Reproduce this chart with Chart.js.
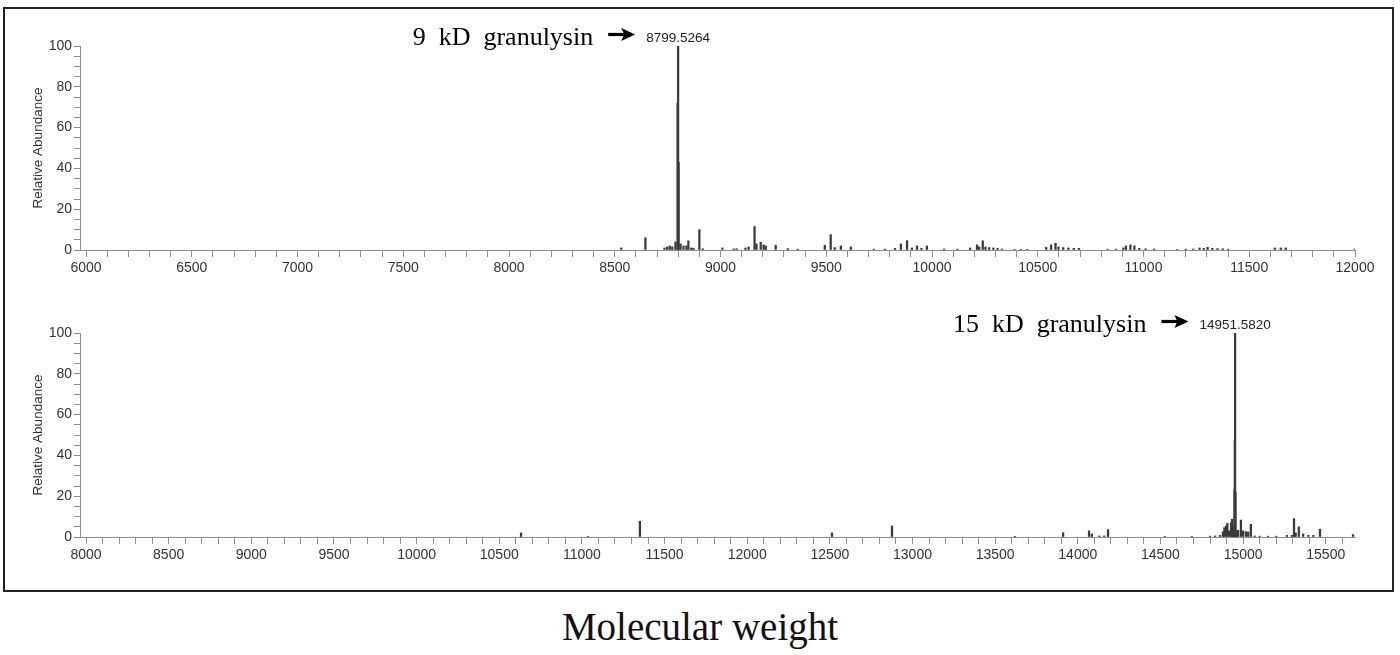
<!DOCTYPE html>
<html>
<head>
<meta charset="utf-8">
<title>Granulysin mass spectra</title>
<script src="https://cdn.jsdelivr.net/npm/chart.js"></script>
<style>
  body { margin: 0; background: #fff; }
  #wrap { position: relative; width: 1400px; height: 655px; }
  #frame { position: absolute; left: 3px; top: 7px; width: 1391px; height: 585px; border: 2px solid #222; box-sizing: border-box; }
  canvas { position: absolute; left: 0; }
  #xtitle { position: absolute; left: 0; top: 604px; width: 1400px; text-align: center;
            font-family: "Liberation Serif", "Times New Roman", serif; font-size: 39px; color: #111; }
</style>
</head>
<body>
<div id="wrap">
  <div id="frame"></div>
  <canvas id="topChart" width="1400" height="290" style="top:0px"></canvas>
  <canvas id="bottomChart" width="1400" height="290" style="top:287px"></canvas>
  <div id="xtitle">Molecular weight</div>
</div>

<script>
// ---- top spectrum (9 kD granulysin), m/z and relative abundance
const topMz = [8531, 8645, 8735, 8748, 8760, 8772, 8787, 8797, 8799.5264, 8802, 8811, 8825, 8839, 8848, 8862, 8872, 8900, 8916,
  9009, 9062, 9076, 9118, 9133, 9161, 9170, 9190, 9204, 9214, 9261, 9318, 9365,
  9493, 9521, 9540, 9569, 9616, 9725, 9777, 9825, 9853, 9882, 9905, 9929, 9950, 9976,
  10057, 10120, 10180, 10213, 10223, 10240, 10253, 10270, 10290, 10310, 10330, 10390, 10420, 10450,
  10540, 10563, 10584, 10598, 10620, 10645, 10670, 10695, 10830, 10870, 10905, 10917, 10938, 10957, 10980, 11010, 11050,
  11160, 11200, 11235, 11265, 11285, 11303, 11325, 11350, 11375, 11400, 11621, 11649, 11673, 11998];
const topAbund = [1, 6, 1, 1.5, 2, 1.5, 4, 72, 100, 43, 3, 2, 2, 4.5, 1, 0.8, 10, 0.6,
  1, 0.5, 0.6, 1, 1.5, 11.5, 3, 3.8, 2.5, 2, 2.3, 0.7, 0.4,
  2.3, 7.5, 1.2, 2, 1.5, 0.4, 0.4, 0.8, 3, 4.6, 1, 2, 0.8, 2,
  0.5, 0.4, 1, 2.5, 1.5, 4.5, 1.5, 1.2, 1, 0.8, 0.5, 0.3, 0.3, 0.3,
  1.3, 2.5, 3.3, 1.5, 1.2, 1, 0.8, 0.8, 0.4, 0.4, 1, 2, 2.5, 2, 0.8, 0.6, 0.5,
  0.3, 0.4, 0.5, 1, 0.8, 1.3, 0.8, 0.7, 0.6, 0.4, 1, 1, 1, 0.5];

// ---- bottom spectrum (15 kD granulysin)
const bottomMz = [10632, 11037, 11351, 12513, 12876, 13620, 13911, 14068, 14085, 14130, 14160, 14183, 14527, 14690,
  14800, 14830, 14860, 14878, 14887, 14897, 14905, 14915, 14927, 14933, 14939, 14948, 14950, 14951.582, 14954,
  14963, 14970, 14987, 15000, 15017, 15031, 15047, 15070, 15100, 15150, 15200,
  15265, 15295, 15308, 15318, 15337, 15363, 15395, 15425, 15465, 15665];
const bottomAbund = [2, 0.3, 7.7, 2, 5.4, 0.3, 2.1, 3, 1.5, 0.5, 0.5, 3.6, 0.3, 0.3,
  0.4, 0.5, 0.8, 2.6, 4.6, 5.4, 6.7, 3, 6.9, 8.7, 5, 23, 47, 100, 22,
  3, 3.3, 8.3, 3, 2.6, 2.5, 6.2, 0.5, 0.4, 0.4, 0.4,
  0.8, 0.8, 9, 2, 5, 1.5, 0.8, 0.8, 3.8, 1.2];

// tick labels
const topTickLabels = [6000, 6500, 7000, 7500, 8000, 8500, 9000, 9500, 10000, 10500, 11000, 11500, 12000];
const bottomTickLabels = [8000, 8500, 9000, 9500, 10000, 10500, 11000, 11500, 12000, 12500, 13000, 13500, 14000, 14500, 15000, 15500];
const yTickLabels = [0, 20, 40, 60, 80, 100];

const axisGray = '#8f8f8f';
const textGray = '#333';

// peak label + "granulysin ->" note, placed from the peak position on the x scale
const peakNote = {
  id: 'peakNote',
  afterDraw(chart, args, opts) {
    const ctx = chart.ctx;
    const px = chart.scales.x.getPixelForValue(opts.peak);
    const top = chart.chartArea.top;
    ctx.save();
    ctx.fillStyle = '#222';
    ctx.font = '13.5px "Liberation Sans", Arial, sans-serif';
    ctx.textAlign = 'center';
    ctx.textBaseline = 'alphabetic';
    ctx.fillText(opts.label, px, top - 4);
    const labelLeft = px - ctx.measureText(opts.label).width / 2;

    // arrow
    const ax1 = labelLeft - 11, ax0 = ax1 - 27, ay = top - 11.5;
    ctx.fillStyle = '#000';
    ctx.fillRect(ax0, ay - 1.6, 18, 3.2);
    ctx.beginPath();
    ctx.moveTo(ax1, ay);
    ctx.lineTo(ax1 - 14, ay - 6.5);
    ctx.lineTo(ax1 - 11, ay);
    ctx.lineTo(ax1 - 14, ay + 6.5);
    ctx.closePath();
    ctx.fill();

    ctx.font = '26px "Liberation Serif", "Times New Roman", serif';
    ctx.textAlign = 'right';
    ctx.fillText(opts.name, ax0 - 15, top - 1);
    ctx.restore();
  }
};

function makeSpectrum(id, mz, ab, xMin, xMax, xLabels, note) {
  const pts = mz.map((m, i) => ({ x: m, y: ab[i] }));
  return new Chart(document.getElementById(id), {
    type: 'bar',
    data: {
      datasets: [{
        data: pts,
        backgroundColor: '#3a3a3a',
        borderWidth: 0,
        barThickness: 1.6,
        grouped: false
      }]
    },
    options: {
      responsive: false,
      animation: false,
      layout: { padding: { top: 46, right: 45, left: 0, bottom: 0 } },
      plugins: { legend: { display: false }, tooltip: { enabled: false }, peakNote: note },
      scales: {
        x: {
          type: 'linear',
          offset: false,
          min: xMin,
          max: xMax,
          afterFit: s => { s.height = 40; },
          border: { display: true, color: axisGray, width: 1 },
          grid: { display: true, drawOnChartArea: false, drawTicks: true, tickLength: 7, color: axisGray, offset: false },
          ticks: {
            stepSize: 100,
            includeBounds: false,
            maxTicksLimit: 1000,
            autoSkip: false,
            maxRotation: 0,
            padding: 3,
            color: textGray,
            font: { family: '"Liberation Sans", Arial, sans-serif', size: 14 },
            callback: v => xLabels.includes(v) ? String(v) : ''
          }
        },
        y: {
          min: 0,
          max: 100,
          afterFit: s => { s.width = 80; },
          border: { display: true, color: axisGray, width: 1 },
          grid: { display: true, drawOnChartArea: false, drawTicks: true, tickLength: 6, color: axisGray },
          title: {
            display: true,
            text: 'Relative Abundance',
            color: textGray,
            padding: { top: 30, bottom: 0 },
            font: { family: '"Liberation Sans", Arial, sans-serif', size: 13.5 }
          },
          ticks: {
            stepSize: 5,
            autoSkip: false,
            padding: 2,
            color: textGray,
            font: { family: '"Liberation Sans", Arial, sans-serif', size: 14 },
            callback: v => yTickLabels.includes(v) ? String(v) : ''
          }
        }
      }
    },
    plugins: [peakNote]
  });
}

makeSpectrum('topChart', topMz, topAbund, 5971.6, 12000, topTickLabels,
  { peak: 8799.5264, label: '8799.5264', name: '9  kD  granulysin' });
makeSpectrum('bottomChart', bottomMz, bottomAbund, 7963.7, 15677, bottomTickLabels,
  { peak: 14951.582, label: '14951.5820', name: '15  kD  granulysin' });
</script>
</body>
</html>
